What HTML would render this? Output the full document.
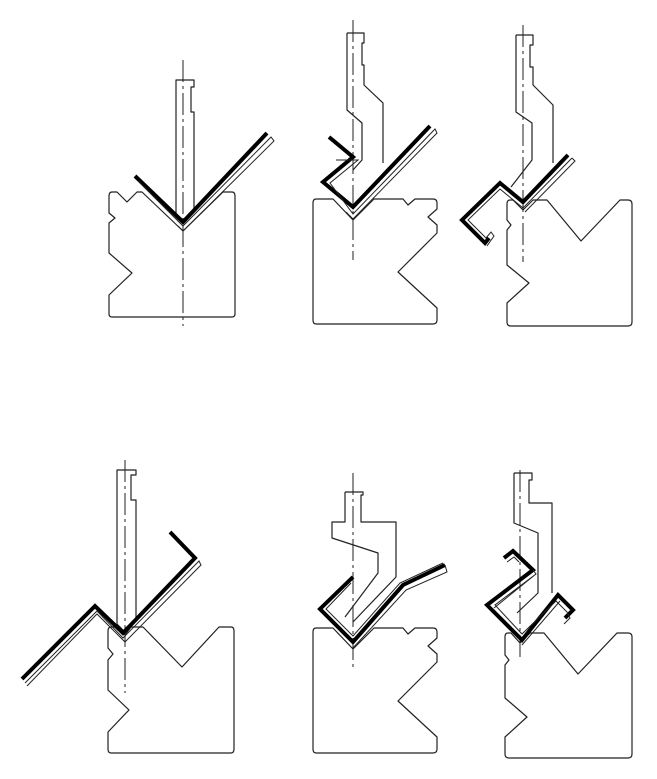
<!DOCTYPE html>
<html><head><meta charset="utf-8"><style>
html,body{margin:0;padding:0;background:#fff;}
svg{display:block;}
.o{fill:none;stroke:#222;stroke-width:1.2;stroke-linejoin:round}
.c{fill:none;stroke:#222;stroke-width:1;stroke-dasharray:22,4,3,4}
.k{fill:none;stroke:#000;stroke-width:4;stroke-linejoin:miter}
.t{fill:none;stroke:#222;stroke-width:1}
</style></head><body>
<svg width="657" height="779" viewBox="0 0 657 779" xmlns="http://www.w3.org/2000/svg">
<!-- Panel 1 -->
<line class="c" x1="183" y1="60" x2="183" y2="326"/>
<path class="o" d="M176,80 L194,80 L194,87 L191,87 L191,112 L194,112 L194,210 L183,222 L176,214 Z"/>
<path class="o" d="M112,192 L117,192 L127,202 L137,192 L142,192 L183,231 L223,192 L232,192 Q235,192 235,196 L235,314 Q235,317 232,317 L112,317 Q109,317 109,314 L109,295 L132,273 L109,253 L109,223 L115,218 L109,213 L109,196 Q109,192 112,192 Z"/>
<path class="k" d="M135,176 L183,222 L267,133"/>
<path class="t" d="M138,181 L183,226 L271,137 L274,141 L183,231 L178,226"/>
<!-- Panel 2 -->
<line class="c" x1="353" y1="20" x2="353" y2="260"/>
<path class="o" d="M347,33 L364,33 L364,43 L362,43 L362,65 L364,65 L364,85 L383,103 L383,163 M347,33 L347,110 L362,123 L362,160 L353,170"/>
<path class="o" d="M316,199 L333,199 L353,220 L374,199 L403,199 L408,205 L415,199 L433,199 Q437,199 437,203 L437,209 L428,217 L437,225 L437,233 L398,272 L437,308 L437,320 Q437,324 433,324 L316,324 Q313,324 313,320 L313,203 Q313,199 316,199 Z"/>
<path class="k" d="M329,137 L353,157 L323,182 L353,207 L430,126"/>
<path class="t" d="M336,160 L358,160 L330,183 L353,214 L435,129 L437,133 L353,219 L346,212"/>
<!-- Panel 3 -->
<line class="c" x1="523" y1="25" x2="523" y2="262"/>
<path class="o" d="M516,35 L533,35 L533,45 L530,45 L530,67 L533,67 L533,85 L553,105 L553,163 M516,35 L516,112 L532,123 L532,160 L511,187"/>
<path class="o" d="M510,200 L513,200 L523,210 L533,200 L547,200 L581,241 L620,200 L628,200 Q632,200 632,204 L632,322 Q632,326 628,326 L511,326 Q507,326 507,322 L507,303 L529,283 L507,265 L507,230 L511,225 L507,220 L507,204 Q507,200 510,200 Z"/>
<path class="k" d="M568,155 L523,202 L500,183 L462,220 L485,243 L489,238"/>
<path class="t" d="M572,158 L523,208 L500,189 L468,220 L486,238 L491,232 L494,236 L487,246 M572,158 L575,161 L525,212"/>
<!-- Panel 4 -->
<line class="c" x1="125" y1="460" x2="125" y2="693"/>
<path class="o" d="M117,470 L136,470 L136,475 L131,475 L131,500 L136,500 L136,620 L125,632 L117,624 Z"/>
<path class="o" d="M111,627 L120,627 L125,635 L131,627 L143,627 L182,667 L219,627 L231,627 Q234,627 234,631 L234,749 Q234,753 231,753 L111,753 Q108,753 108,749 L108,732 L129,710 L108,690 L108,660 L113,654 L108,648 L108,631 Q108,627 111,627 Z"/>
<path class="k" d="M22,679 L95,606 L123,633 L195,558 L170,532"/>
<path class="t" d="M25,683 L97,611 L123,638 L199,561 L201,565 L125,642 L97,614 L27,686"/>
<!-- Panel 5 -->
<line class="c" x1="353" y1="473" x2="353" y2="667"/>
<path class="o" d="M345,492 L363,492 L363,495 L361,495 L361,522 L396,522 L396,577 L353,622 M345,492 L345,522 L332,522 L332,538 L378,553 L378,573 L345,617"/>
<path class="o" d="M316,628 L333,628 L353,649 L374,628 L403,628 L408,634 L415,628 L433,628 Q437,628 437,632 L437,638 L428,646 L437,654 L437,662 L398,701 L437,737 L437,749 Q437,753 433,753 L316,753 Q313,753 313,749 L313,632 Q313,628 316,628 Z"/>
<path class="k" d="M353,577 L320,609 L353,642 L403,585 L445,565"/>
<path class="t" d="M351,583 L326,609 L353,636 L400,583 L443,563 M353,648 L406,590 L447,572 L445,565"/>
<!-- Panel 6 -->
<line class="c" x1="520" y1="470" x2="520" y2="658"/>
<path class="o" d="M514,473 L532,473 L532,480 L529,480 L529,503 L552,503 L552,593 M514,473 L514,523 L538,533 L538,593 L517,613"/>
<path class="o" d="M508,633 L511,633 L520,643 L530,633 L544,633 L578,674 L617,633 L628,633 Q632,633 632,637 L632,754 Q632,758 628,758 L509,758 Q505,758 505,754 L505,737 L527,717 L505,698 L505,665 L509,660 L505,655 L505,637 Q505,633 508,633 Z"/>
<path class="k" d="M504,558 L513,551 L533,570 L487,605 L522,640 L558,595 L573,610 L565,618"/>
<path class="t" d="M507,562 L514,557 L519,562 M533,570 L536,574 L495,605 L522,634 L556,601 L567,612 L570,618 L564,624 M522,645 L560,601 M536,574 L494,608"/>
</svg>
</body></html>
